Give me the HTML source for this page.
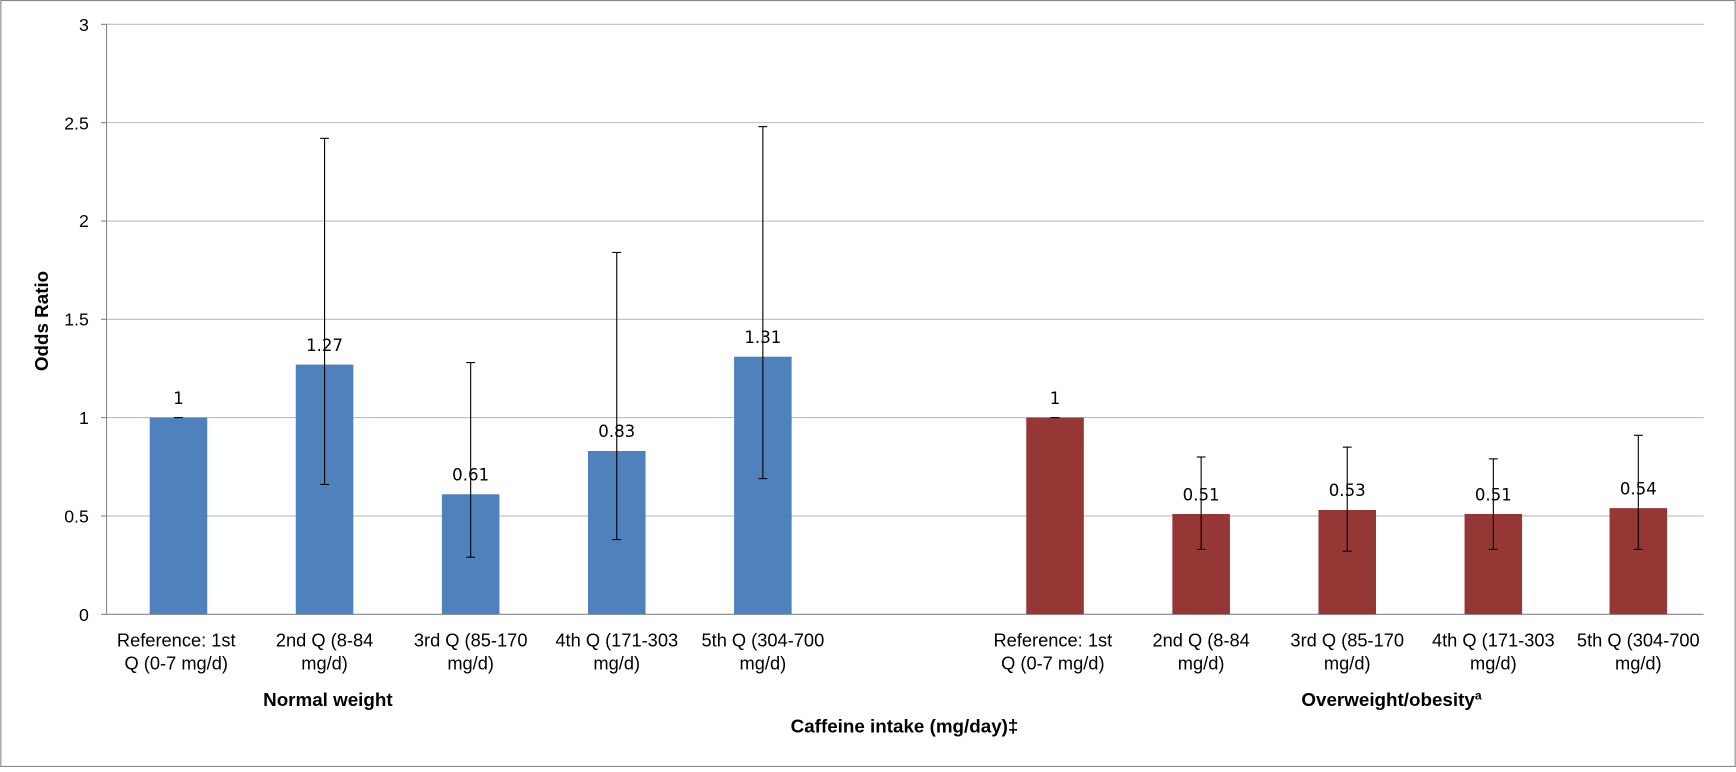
<!DOCTYPE html>
<html><head><meta charset="utf-8"><style>
body{margin:0;background:#fff;}
svg text{font-family:"Liberation Sans",Arial,sans-serif;}
</style></head><body>
<svg width="1736" height="767" viewBox="0 0 1568 693" xmlns="http://www.w3.org/2000/svg">
<rect x="0.5" y="0.5" width="1567" height="692" fill="#fff" stroke="#888"/>
<g stroke="#bdbdbd">
<line x1="96" y1="22" x2="1539" y2="22"/><line x1="96" y1="110.8" x2="1539" y2="110.8"/><line x1="96" y1="199.7" x2="1539" y2="199.7"/><line x1="96" y1="288.5" x2="1539" y2="288.5"/><line x1="96" y1="377.3" x2="1539" y2="377.3"/><line x1="96" y1="466.2" x2="1539" y2="466.2"/>
</g>
<g stroke="#868686">
<line x1="91" y1="555" x2="1539" y2="555"/><line x1="96" y1="22" x2="96" y2="555"/>
<line x1="91" y1="22" x2="96" y2="22"/><line x1="91" y1="110.8" x2="96" y2="110.8"/><line x1="91" y1="199.7" x2="96" y2="199.7"/><line x1="91" y1="288.5" x2="96" y2="288.5"/><line x1="91" y1="377.3" x2="96" y2="377.3"/><line x1="91" y1="466.2" x2="96" y2="466.2"/>
</g>
<g font-size="16" text-anchor="end">
<text x="80" y="28">3</text><text x="80" y="117">2.5</text><text x="80" y="205">2</text><text x="80" y="294">1.5</text><text x="80" y="383">1</text><text x="80" y="472">0.5</text><text x="80" y="561">0</text>
</g>
<g fill="#4F81BD">
<rect x="135" y="377.3" width="52" height="177.7"/><rect x="267" y="329.4" width="52" height="225.6"/><rect x="399" y="446.6" width="52" height="108.4"/><rect x="531" y="407.5" width="52" height="147.5"/><rect x="663" y="322.3" width="52" height="232.7"/>
</g>
<g fill="#953735">
<rect x="927" y="377.3" width="52" height="177.7"/><rect x="1059" y="464.4" width="52" height="90.6"/><rect x="1191" y="460.8" width="52" height="94.2"/><rect x="1323" y="464.4" width="52" height="90.6"/><rect x="1454" y="459.1" width="52" height="95.9"/>
</g>
<g stroke="#000">
<line x1="157" y1="377.3" x2="165" y2="377.3"/>
<line x1="293" y1="125" x2="293" y2="437.7"/><line x1="289" y1="125" x2="297" y2="125"/><line x1="289" y1="437.7" x2="297" y2="437.7"/>
<line x1="425" y1="327.6" x2="425" y2="503.5"/><line x1="421" y1="327.6" x2="429" y2="327.6"/><line x1="421" y1="503.5" x2="429" y2="503.5"/>
<line x1="557" y1="228.1" x2="557" y2="487.5"/><line x1="553" y1="228.1" x2="561" y2="228.1"/><line x1="553" y1="487.5" x2="561" y2="487.5"/>
<line x1="689" y1="114.4" x2="689" y2="432.4"/><line x1="685" y1="114.4" x2="693" y2="114.4"/><line x1="685" y1="432.4" x2="693" y2="432.4"/>
<line x1="949" y1="377.3" x2="957" y2="377.3"/>
<line x1="1085" y1="412.9" x2="1085" y2="496.4"/><line x1="1081" y1="412.9" x2="1089" y2="412.9"/><line x1="1081" y1="496.4" x2="1089" y2="496.4"/>
<line x1="1217" y1="404" x2="1217" y2="498.1"/><line x1="1213" y1="404" x2="1221" y2="404"/><line x1="1213" y1="498.1" x2="1221" y2="498.1"/>
<line x1="1349" y1="414.6" x2="1349" y2="496.4"/><line x1="1345" y1="414.6" x2="1353" y2="414.6"/><line x1="1345" y1="496.4" x2="1353" y2="496.4"/>
<line x1="1480" y1="393.3" x2="1480" y2="496.4"/><line x1="1476" y1="393.3" x2="1484" y2="393.3"/><line x1="1476" y1="496.4" x2="1484" y2="496.4"/>
</g>
<g font-size="15" text-anchor="middle" font-family="'DejaVu Sans',sans-serif">
<text x="161" y="365" style="font-family:'DejaVu Sans',sans-serif">1</text><text x="293" y="317" style="font-family:'DejaVu Sans',sans-serif">1.27</text><text x="425" y="434" style="font-family:'DejaVu Sans',sans-serif">0.61</text><text x="557" y="395" style="font-family:'DejaVu Sans',sans-serif">0.83</text><text x="689" y="310" style="font-family:'DejaVu Sans',sans-serif">1.31</text>
<text x="953" y="365" style="font-family:'DejaVu Sans',sans-serif">1</text><text x="1085" y="452" style="font-family:'DejaVu Sans',sans-serif">0.51</text><text x="1217" y="448" style="font-family:'DejaVu Sans',sans-serif">0.53</text><text x="1349" y="452" style="font-family:'DejaVu Sans',sans-serif">0.51</text><text x="1480" y="447" style="font-family:'DejaVu Sans',sans-serif">0.54</text>
</g>
<g font-size="16.5" text-anchor="middle">
<text x="159" y="584">Reference: 1st</text><text x="159" y="605">Q (0-7 mg/d)</text>
<text x="293" y="584">2nd Q (8-84</text><text x="293" y="605">mg/d)</text>
<text x="425" y="584">3rd Q (85-170</text><text x="425" y="605">mg/d)</text>
<text x="557" y="584">4th Q (171-303</text><text x="557" y="605">mg/d)</text>
<text x="689" y="584">5th Q (304-700</text><text x="689" y="605">mg/d)</text>
<text x="951" y="584">Reference: 1st</text><text x="951" y="605">Q (0-7 mg/d)</text>
<text x="1085" y="584">2nd Q (8-84</text><text x="1085" y="605">mg/d)</text>
<text x="1217" y="584">3rd Q (85-170</text><text x="1217" y="605">mg/d)</text>
<text x="1349" y="584">4th Q (171-303</text><text x="1349" y="605">mg/d)</text>
<text x="1480" y="584">5th Q (304-700</text><text x="1480" y="605">mg/d)</text>
</g>
<g font-size="17" font-weight="bold" text-anchor="middle">
<text x="296" y="638">Normal weight</text>
<text x="1257" y="638">Overweight/obesity<tspan font-size="11" dy="-6">a</tspan></text>
<text x="817" y="662">Caffeine intake (mg/day)‡</text>
<text transform="translate(43,290) rotate(-90)">Odds Ratio</text>
</g>
</svg>
</body></html>
